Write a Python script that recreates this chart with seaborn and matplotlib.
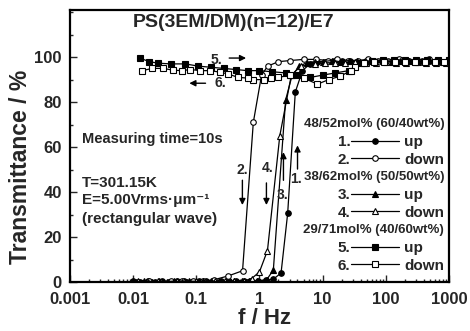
import numpy as np
import seaborn as sns
import matplotlib
matplotlib.use("Agg")
import matplotlib.pyplot as plt
from matplotlib.lines import Line2D

# --- data (f in Hz, T in %) ---
f_s1 = [0.01, 0.013, 0.017, 0.022, 0.029, 0.038, 0.05, 0.065, 0.085, 0.11, 0.145, 0.19, 0.25, 0.33,
        0.43, 0.56, 0.73, 0.95, 1.25, 1.65, 2.2, 2.8, 3.7, 4.8, 6.3, 8.3, 11, 15, 20, 27, 36, 48, 65,
        87, 115, 155, 210, 280, 375, 500, 670, 1000]
t_s1 = [0.3, 0.2, 0.4, 0.2, 0.3, 0.2, 0.4, 0.3, 0.2, 0.4, 0.3, 0.3, 0.4, 0.3,
        0.4, 0.3, 0.5, 0.5, 0.8, 1.2, 4, 30.5, 84.5, 94, 97, 98, 98, 98.5, 98.5, 98.5, 98, 98.5, 98.5,
        98.5, 98, 98.5, 98.5, 98, 98.5, 98.5, 98, 98]

f_s2 = [1000, 700, 480, 330, 230, 160, 110, 75, 52, 36, 25, 17, 12, 8, 5, 3.1, 2.0, 1.35, 1.08, 0.8,
        0.54, 0.32, 0.19, 0.13, 0.09, 0.06, 0.04, 0.027, 0.018, 0.012]
t_s2 = [98.5, 98.5, 99, 98.5, 98.5, 99, 98.5, 98.5, 99, 98.5, 98.5, 99, 98.5, 99, 99, 98.5, 98, 96, 92, 71,
        5, 2.7, 1.0, 0.5, 0.4, 0.3, 0.3, 0.2, 0.3, 0.2]

f_s3 = [0.011, 0.015, 0.02, 0.026, 0.034, 0.045, 0.06, 0.078, 0.1, 0.13, 0.17, 0.23, 0.3, 0.4, 0.52,
        0.68, 0.9, 1.3, 1.66, 2.6, 3.3, 4.3, 5.6, 7.5, 10, 14, 19, 26, 35, 48, 65, 90, 125, 170, 235,
        320, 440, 600, 820]
t_s3 = [0.2, 0.3, 0.2, 0.3, 0.2, 0.3, 0.2, 0.3, 0.2, 0.3, 0.4, 0.3, 0.2, 0.3, 0.4,
        0.3, 0.5, 1.0, 5.3, 81, 92, 96, 97.5, 98, 98, 98.5, 98, 98.5, 98.5, 98, 98.5, 98.5, 98, 98.5, 98.5,
        98, 98.5, 98.5, 98]

f_s4 = [900, 620, 430, 300, 210, 145, 100, 70, 48, 33, 23, 16, 11, 7.5, 4.5, 3.2, 2.1, 1.34, 1.0,
        0.75, 0.56, 0.4, 0.28, 0.2, 0.14, 0.1, 0.07, 0.05, 0.035, 0.025, 0.017, 0.012]
t_s4 = [97.5, 97.5, 97.5, 98, 97.5, 97.5, 98, 97.5, 97.5, 98, 97.5, 97.5, 97.5, 97, 96, 92, 65, 14, 4.5,
        1.5, 0.5, 0.4, 0.3, 0.3, 0.2, 0.3, 0.2, 0.3, 0.2, 0.3, 0.2, 0.3]

f_s5 = [0.013, 0.018, 0.025, 0.04, 0.067, 0.108, 0.17, 0.27, 0.42, 0.65, 1.0, 1.6, 2.6, 4.0, 6.4,
        10, 16, 26, 40, 60, 90, 135, 200, 300, 450, 680, 1000]
t_s5 = [99.5, 98, 97.3, 97, 97, 96, 95.5, 95, 94.5, 94, 94, 93.5, 93, 92, 91,
        92, 93, 94, 97.5, 98.5, 98.7, 98.7, 98.7, 98.7, 98.7, 98.7, 98.7]

f_s6 = [850, 600, 420, 290, 200, 140, 95, 65, 45, 33, 28, 19, 12.5, 8.3, 5, 3.1, 2.0, 1.5, 1.17, 0.8,
        0.65, 0.46, 0.32, 0.24, 0.166, 0.116, 0.08, 0.06, 0.043, 0.03, 0.02, 0.014]
t_s6 = [98, 98, 98, 98, 98, 98, 98, 98, 97.5, 95.5, 94, 91.5, 90, 88, 90.7, 92, 91, 90.7, 90, 90,
        90.7, 91, 92.5, 93.3, 94, 94, 94.5, 94, 94.2, 95, 95, 94]

xtick_vals = [0.001, 0.01, 0.1, 1, 10, 100, 1000]
xtick_labels = ["0.001", "0.01", "0.1", "1", "10", "100", "1000"]
ytick_vals = [0, 20, 40, 60, 80, 100]

groups = ["48/52mol% (60/40wt%)", "38/62mol% (50/50wt%)", "29/71mol% (40/60wt%)"]

sns.set_style("ticks")
plt.rcParams["font.family"] = ["Liberation Sans", "DejaVu Sans"]
plt.rcParams["font.weight"] = "bold"

fig = plt.figure(figsize=(4.70, 3.31), dpi=100)
ax = fig.add_axes([0.149, 0.148, 0.806, 0.822])

series = [
    (f_s1, t_s1, "o", "black"),
    (f_s2, t_s2, "o", "white"),
    (f_s3, t_s3, "^", "black"),
    (f_s4, t_s4, "^", "white"),
    (f_s5, t_s5, "s", "black"),
    (f_s6, t_s6, "s", "white"),
]
for fx, ty, mk, fc in series:
    sns.lineplot(x=fx, y=ty, ax=ax, sort=False, estimator=None, color="black", lw=0.9,
                 marker=mk, markersize=4, markerfacecolor=fc, markeredgecolor="black",
                 markeredgewidth=0.8, legend=False)

ax.set_xscale("log")
ax.set_xlim(0.001, 1000)
ax.set_ylim(0, 121)
ax.set_xticks(xtick_vals, labels=xtick_labels)
ax.set_yticks(ytick_vals)
ax.yaxis.set_minor_locator(matplotlib.ticker.MultipleLocator(10))
ax.xaxis.set_minor_locator(matplotlib.ticker.LogLocator(base=10, subs=np.arange(2, 10), numticks=20))
ax.xaxis.set_minor_formatter(matplotlib.ticker.NullFormatter())
ax.tick_params(which="both", direction="in", top=False, right=False, width=1.0)
ax.tick_params(which="major", length=5, labelsize=12, pad=6)
ax.tick_params(axis="x", which="major", pad=7.5)
ax.tick_params(which="minor", length=2.5)
for lab in ax.get_xticklabels() + ax.get_yticklabels():
    lab.set_fontweight("bold")
for sp in ax.spines.values():
    sp.set_linewidth(1.6)
    sp.set_color("black")

ax.set_xlabel("f / Hz", fontsize=16, fontweight="bold")
ax.set_ylabel("Transmittance / %", fontsize=16.5, fontweight="bold")
ax.xaxis.set_label_coords(0.513, -0.095)
ax.yaxis.set_label_coords(-0.10, 0.423)

ax.text(0.431, 0.952, "PS(3EM/DM)(n=12)/E7", transform=ax.transAxes, ha="center", va="center",
        fontsize=14, fontweight="bold")

ax.text(0.032, 0.526, "Measuring time=10s", transform=ax.transAxes, ha="left", va="center",
        fontsize=10.5, fontweight="bold")
ax.text(0.032, 0.364, "T=301.15K", transform=ax.transAxes, ha="left", va="center",
        fontsize=11, fontweight="bold")
ax.text(0.032, 0.301, "E=5.00Vrms·μm⁻¹", transform=ax.transAxes, ha="left", va="center",
        fontsize=11, fontweight="bold")
ax.text(0.032, 0.232, "(rectangular wave)", transform=ax.transAxes, ha="left", va="center",
        fontsize=11, fontweight="bold")

# curve labels and arrows
arw = dict(arrowstyle="-|>", color="black", lw=1.0, mutation_scale=9)
ax.text(0.207, 98.7, "5.", ha="center", va="center", fontsize=10, fontweight="bold")
ax.annotate("", xy=(0.68, 99.6), xytext=(0.30, 99.6), arrowprops=arw)
ax.annotate("", xy=(0.07, 88.4), xytext=(0.155, 88.4), arrowprops=arw)
ax.text(0.24, 88.4, "6.", ha="center", va="center", fontsize=10, fontweight="bold")

ax.text(0.537, 49.8, "2.", ha="center", va="center", fontsize=10, fontweight="bold")
ax.annotate("", xy=(0.537, 33.0), xytext=(0.537, 46.5), arrowprops=arw)
ax.text(1.34, 50.7, "4.", ha="center", va="center", fontsize=10, fontweight="bold")
ax.annotate("", xy=(1.29, 33.0), xytext=(1.29, 45.3), arrowprops=arw)
ax.text(2.32, 38.5, "3.", ha="center", va="center", fontsize=10, fontweight="bold")
ax.annotate("", xy=(2.40, 59.0), xytext=(2.40, 44.0), arrowprops=arw)
ax.text(3.86, 46.0, "1.", ha="center", va="center", fontsize=10, fontweight="bold")
ax.annotate("", xy=(4.01, 62.0), xytext=(4.01, 49.0), arrowprops=arw)

# legend: 9 rows, group headers drawn as text over blank rows
blank = Line2D([], [], linestyle="none")
handles, labels = [], []
for i, fc in enumerate(["black", "white"] * 3):
    if i % 2 == 0:
        handles.append(blank)
        labels.append(" ")
    mk = ["o", "o", "^", "^", "s", "s"][i]
    handles.append(Line2D([], [], color="black", lw=0.9, marker=mk, markersize=4,
                          markerfacecolor=fc, markeredgecolor="black", markeredgewidth=0.8))
    labels.append("up" if i % 2 == 0 else "down")
leg = ax.legend(handles, labels, loc="upper left", bbox_to_anchor=(0.743, 0.605), frameon=False,
                handlelength=3.1, handletextpad=0.35, labelspacing=0.24, borderpad=0, borderaxespad=0,
                prop={"family": ["Liberation Sans"], "weight": "bold", "size": 11})

fig.canvas.draw()
inv = ax.transAxes.inverted()
texts = leg.get_texts()
right_edge = max(t.get_window_extent().x1 for t in texts)
hstart = texts[1].get_window_extent().x0 - (3.1 + 0.35) * 11 * 100 / 72
num = 1
for r, t in enumerate(texts):
    bb = t.get_window_extent()
    yc = (bb.y0 + bb.y1) / 2
    if r % 3 == 0:
        xa, ya = inv.transform((right_edge, yc))
        ax.text(xa, ya, groups[r // 3], transform=ax.transAxes, ha="right", va="center",
                fontsize=9.5, fontweight="bold")
    else:
        xa, ya = inv.transform((hstart - 1, yc))
        ax.text(xa, ya, f"{num}.", transform=ax.transAxes, ha="right", va="center",
                fontsize=11, fontweight="bold")
        num += 1

fig.savefig("out.png", dpi=100)
